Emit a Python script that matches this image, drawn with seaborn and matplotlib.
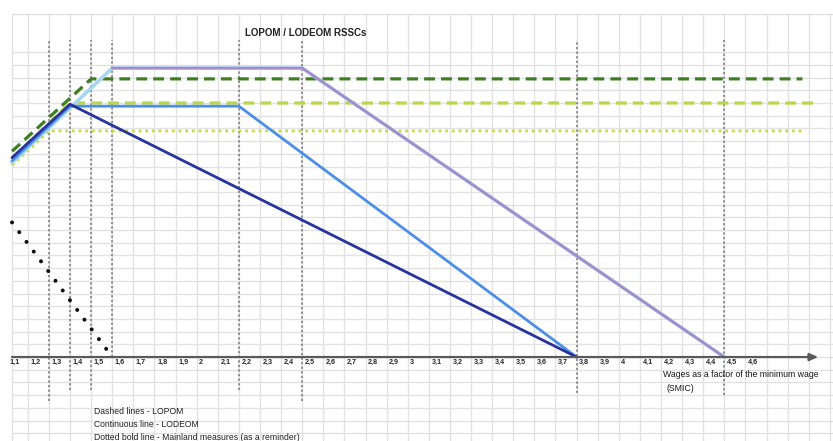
import matplotlib
matplotlib.use("Agg")
import matplotlib.pyplot as plt
import numpy as np
import pandas as pd
import seaborn as sns

# wage as a factor of SMIC (x) and exemption level in grid units (y)
x_start = 1.125

lodeom_comp_x = [x_start, 1.4, 3.8]
lodeom_comp_y = [15.7, 19.9, 0.0]

lodeom_renf_x = [x_start, 1.4, 2.2, 3.8]
lodeom_renf_y = [15.45, 19.75, 19.75, 0.0]

lodeom_innov_x = [x_start, 1.6, 2.5, 4.5]
lodeom_innov_y = [15.3, 22.75, 22.75, 0.0]

lopom_a_x = [x_start, 1.5, 4.87]
lopom_a_y = [16.2, 21.9, 21.9]

lopom_b_x = [x_start, 1.4, 4.92]
lopom_b_y = [15.6, 20.0, 20.0]

lopom_c_x = [x_start, 1.3, 4.88]
lopom_c_y = [15.1, 17.8, 17.8]

mainland_x = [x_start, 1.6]
mainland_y = [10.6, 0.0]

thresholds = [1.3, 1.4, 1.5, 1.6, 2.2, 2.5, 3.8, 4.5]
threshold_bottoms = [-3.5, -2.6, -2.6, 0.0, -2.6, -3.5, -2.8, -3.0]

tick_values = [round(1.1 + 0.1 * i, 1) for i in range(36)]
tick_labels = [f"{v:g}".replace(".", ",") for v in tick_values]

notes = ["Dashed lines - LOPOM",
         "Continuous line - LODEOM",
         "Dotted bold line - Mainland measures (as a reminder)"]

sns.set_style("white")
plt.rcParams['font.family'] = ['Liberation Sans', 'DejaVu Sans']

fig = plt.figure(figsize=(8.33, 4.41), dpi=100)
ax = fig.add_axes([0, 0, 1, 1])
ax.set_xlim(1.068, 5.015)
ax.set_ylim(-6.61, 28.11)
ax.axis("off")

# spreadsheet grid
grid_x = np.round(np.arange(1.2, 5.05, 0.1), 1)
grid_y = [v for v in range(-7, 28) if v not in (25, 26)]
ax.vlines(grid_x, -7, 27, color="#e2e2e2", lw=1, zorder=0)
ax.vlines(x_start, -7, 27, color="#e2e2e2", lw=1, zorder=0)
ax.hlines(grid_y, x_start, 5.1, color="#e2e2e2", lw=1, zorder=0)

# threshold markers
for xv, yb in zip(thresholds, threshold_bottoms):
    ax.vlines(xv, yb, 25.0, color="#777777", lw=1.1, linestyles=(0, (1.5, 1.5)), zorder=1)

def draw(xs, ys, color, lw, ls="-", z=3, cap="butt"):
    df = pd.DataFrame({"x": xs, "y": ys})
    sns.lineplot(data=df, x="x", y="y", sort=False, color=color, lw=lw,
                 linestyle=ls, ax=ax, zorder=z, dash_capstyle=cap)

draw(lopom_c_x, lopom_c_y, "#c3dd45", 2.0, (0, (1, 1.4)), z=2)
draw(lopom_b_x, lopom_b_y, "#b6d84a", 2.3, (0, (3.4, 1.9)), z=3)
draw(lopom_a_x, lopom_a_y, "#3f7f23", 2.3, (0, (3.4, 1.9)), z=3)
draw(lodeom_innov_x, lodeom_innov_y, "#a8d6f2", 2.6, z=4)
draw(lodeom_innov_x[1:], lodeom_innov_y[1:], "#a58bc9", 1.9, z=5)
draw(lodeom_renf_x, lodeom_renf_y, "#4b8fe8", 2.0, z=5)
draw(lodeom_comp_x, lodeom_comp_y, "#27339e", 2.0, z=6)
draw(mainland_x, mainland_y, "#111111", 2.9, (0, (0.01, 3.0)), z=6, cap="round")

# horizontal axis with arrow
ax.annotate("", xy=(4.945, 0), xytext=(x_start, 0),
            arrowprops=dict(arrowstyle="-|>,head_length=0.5,head_width=0.22",
                            color="#5a5a5a", lw=1.6, shrinkA=0, shrinkB=0),
            zorder=7)

for v, lab in zip(tick_values, tick_labels):
    ax.text(v + 0.012, -0.45, lab, ha="left", va="center", fontsize=5.2,
            fontweight="bold", color="#2a2a2a", zorder=8)

ax.text(2.229, 25.5, "LOPOM / LODEOM RSSCs", ha="left", va="center",
        fontsize=7, fontweight="bold", color="#222222")
ax.text(4.209, -1.34, "Wages as a factor of the minimum wage", ha="left",
        va="center", fontsize=6.3, color="#1a1a1a")
ax.text(4.224, -2.44, "(SMIC)", ha="left", va="center", fontsize=6.3,
        color="#1a1a1a")

for i, note in enumerate(notes):
    ax.text(1.512, -4.3 - 1.03 * i, note, ha="left", va="center",
            fontsize=6.2, color="#222222")

fig.savefig("out.png", dpi=100)
